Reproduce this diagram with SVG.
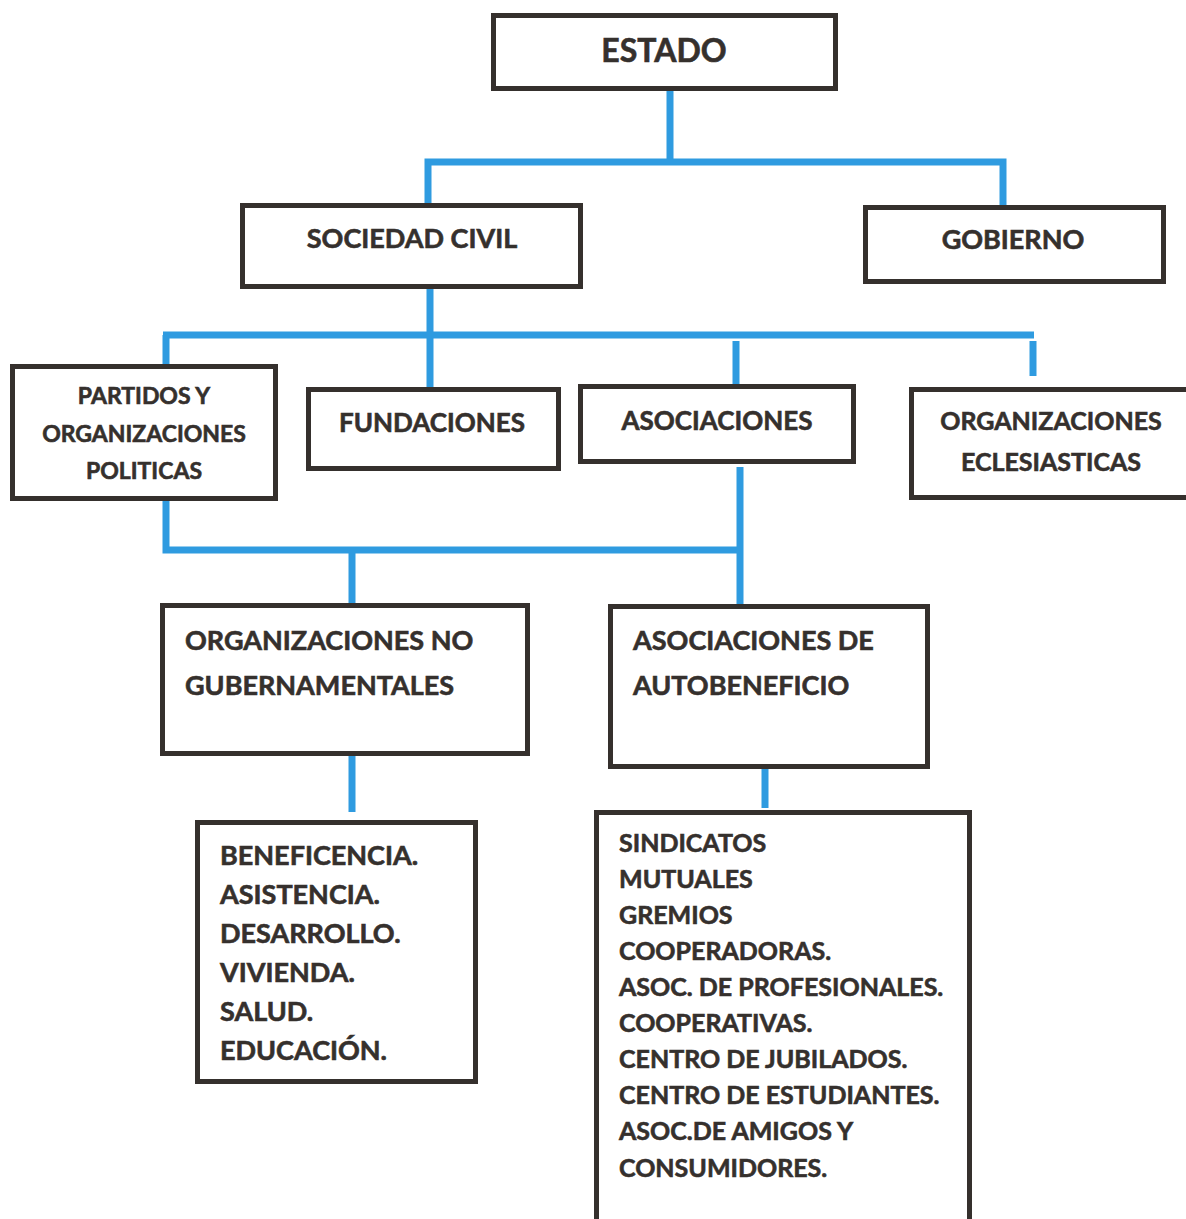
<svg xmlns="http://www.w3.org/2000/svg" width="1186" height="1219" viewBox="0 0 1186 1219">
<style>
.box{fill:#fff;stroke:#35302d;stroke-width:5}
.ln{stroke:#2f9be0;stroke-width:7;fill:none;stroke-linecap:butt}
text{font-family:Lato,"Open Sans","Liberation Sans",sans-serif;font-weight:bold;fill:#35302d;stroke:#35302d;stroke-width:0.6}
.c{text-anchor:middle}
</style>
<rect width="1186" height="1219" fill="#fff"/>
<g id="connectors">
<path class="ln" d="M670 91V162M428 206V162H1003V207"/>
<path class="ln" d="M430 289V387M163 335H1034M166 335V378M736 341V385M1033 341V376"/>
<path class="ln" d="M166 501V550H740M740 467V604M352 550V604"/>
<path class="ln" d="M352 756V812M765 769V808"/>
</g>
<g id="estado"><rect class="box" x="493.5" y="15.5" width="342" height="73"/><text class="c" x="664" y="62" font-size="32">ESTADO</text></g>
<g id="sociedad-civil"><rect class="box" x="242.5" y="205.5" width="338" height="81"/><text class="c" x="412" y="248" font-size="27">SOCIEDAD CIVIL</text></g>
<g id="gobierno"><rect class="box" x="865.5" y="207.5" width="298" height="74"/><text class="c" x="1013" y="249" font-size="27">GOBIERNO</text></g>
<g id="partidos"><rect class="box" x="12.5" y="366.5" width="263" height="132"/><text class="c" x="144" y="404" font-size="23">PARTIDOS Y</text><text class="c" x="144" y="442" font-size="23">ORGANIZACIONES</text><text class="c" x="144" y="479" font-size="23">POLITICAS</text></g>
<g id="fundaciones"><rect class="box" x="308.5" y="389.5" width="250" height="79"/><text class="c" x="432" y="432" font-size="26">FUNDACIONES</text></g>
<g id="asociaciones"><rect class="box" x="580.5" y="386.5" width="273" height="75"/><text class="c" x="717" y="430" font-size="26">ASOCIACIONES</text></g>
<g id="eclesiasticas"><rect class="box" x="911.5" y="389.5" width="285" height="108"/><text class="c" x="1051" y="430" font-size="25">ORGANIZACIONES</text><text class="c" x="1051" y="471" font-size="25">ECLESIASTICAS</text></g>
<g id="ong"><rect class="box" x="162.5" y="605.5" width="365" height="148"/><text x="185" y="650" font-size="27">ORGANIZACIONES NO</text><text x="185" y="695" font-size="27">GUBERNAMENTALES</text></g>
<g id="autobeneficio"><rect class="box" x="610.5" y="606.5" width="317" height="160"/><text x="633" y="650" font-size="27">ASOCIACIONES DE</text><text x="633" y="695" font-size="27">AUTOBENEFICIO</text></g>
<g id="ong-list"><rect class="box" x="197.5" y="822.5" width="278" height="259"/>
<g font-size="27"><text x="220" y="865">BENEFICENCIA.</text><text x="220" y="904">ASISTENCIA.</text><text x="220" y="943">DESARROLLO.</text><text x="220" y="982">VIVIENDA.</text><text x="220" y="1021">SALUD.</text><text x="220" y="1060">EDUCACIÓN.</text></g></g>
<g id="autobeneficio-list"><rect class="box" x="596.5" y="812.5" width="373" height="420"/>
<g font-size="25"><text x="619" y="852">SINDICATOS</text><text x="619" y="888">MUTUALES</text><text x="619" y="924">GREMIOS</text><text x="619" y="960">COOPERADORAS.</text><text x="619" y="996">ASOC. DE PROFESIONALES.</text><text x="619" y="1032">COOPERATIVAS.</text><text x="619" y="1068">CENTRO DE JUBILADOS.</text><text x="619" y="1104">CENTRO DE ESTUDIANTES.</text><text x="619" y="1140">ASOC.DE AMIGOS Y</text><text x="619" y="1177">CONSUMIDORES.</text></g></g>
</svg>
